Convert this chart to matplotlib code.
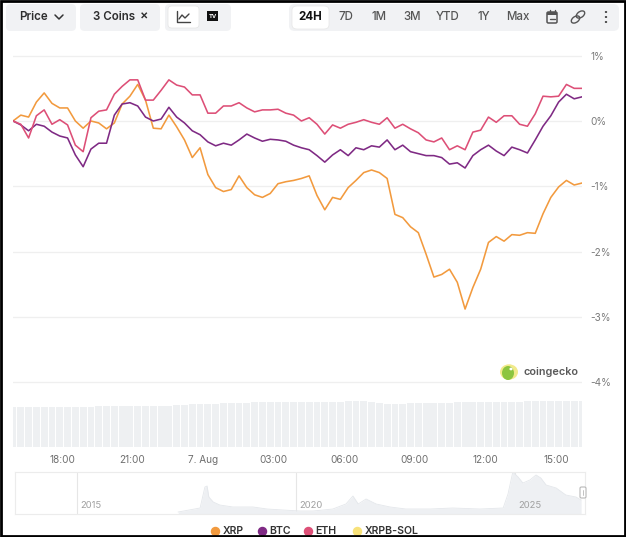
import numpy as np
import pandas as pd
import matplotlib
matplotlib.use("Agg")
import matplotlib.pyplot as plt
import matplotlib.dates as mdates
from matplotlib.patches import FancyBboxPatch, Rectangle, Circle, Ellipse
from matplotlib.lines import Line2D

plt.rcParams['font.family'] = ['Inter', 'DejaVu Sans']

# ---------------- data ----------------
start_time = "2025-08-06 15:55"
end_time = "2025-08-07 16:06"
n_points = 74

xrp = [0.00, 0.09, 0.06, 0.29, 0.43, 0.27, 0.20, 0.20, 0.00, -0.11,
       0.00, -0.03, -0.12, -0.03, 0.26, 0.38, 0.56, 0.32, -0.11, -0.12,
       0.09, -0.09, -0.29, -0.56, -0.41, -0.82, -1.02, -1.08, -1.05, -0.84,
       -1.02, -1.13, -1.17, -1.11, -0.96, -0.93, -0.91, -0.88, -0.84, -1.14,
       -1.36, -1.17, -1.20, -1.02, -0.91, -0.79, -0.75, -0.79, -0.88, -1.43,
       -1.48, -1.62, -1.71, -2.04, -2.39, -2.35, -2.27, -2.47, -2.88, -2.55,
       -2.27, -1.86, -1.77, -1.84, -1.74, -1.75, -1.71, -1.72, -1.42, -1.17,
       -1.01, -0.91, -0.98, -0.95]
btc = [0.00, -0.06, -0.15, -0.05, -0.08, -0.17, -0.23, -0.26, -0.52, -0.70,
       -0.43, -0.34, -0.34, 0.09, 0.26, 0.28, 0.23, 0.06, 0.00, 0.03,
       0.21, 0.06, -0.03, -0.15, -0.21, -0.32, -0.38, -0.34, -0.37, -0.29,
       -0.20, -0.26, -0.31, -0.28, -0.29, -0.31, -0.37, -0.41, -0.44, -0.53,
       -0.63, -0.52, -0.44, -0.53, -0.41, -0.44, -0.38, -0.40, -0.29, -0.44,
       -0.37, -0.47, -0.50, -0.53, -0.53, -0.56, -0.66, -0.64, -0.72, -0.53,
       -0.44, -0.37, -0.46, -0.53, -0.40, -0.44, -0.49, -0.29, -0.08, 0.08,
       0.29, 0.41, 0.34, 0.37]
eth = [0.00, -0.05, -0.26, 0.08, 0.17, -0.05, 0.02, -0.06, -0.37, -0.47,
       0.05, 0.15, 0.17, 0.41, 0.53, 0.63, 0.63, 0.32, 0.32, 0.47,
       0.63, 0.55, 0.52, 0.40, 0.40, 0.12, 0.12, 0.23, 0.23, 0.28,
       0.20, 0.14, 0.17, 0.17, 0.18, 0.12, 0.09, 0.00, 0.05, -0.05,
       -0.20, -0.06, -0.11, -0.05, -0.02, 0.02, -0.02, -0.05, 0.05, -0.11,
       -0.05, -0.12, -0.18, -0.29, -0.32, -0.26, -0.44, -0.38, -0.44, -0.17,
       -0.14, 0.06, -0.02, 0.08, 0.08, -0.05, -0.08, 0.11, 0.38, 0.37,
       0.38, 0.56, 0.50, 0.50]
volume = [40] * 11 + [41] * 10 + [42, 42, 43, 43, 43, 43, 44] + \
         [44, 44, 44, 45, 45, 45, 45, 45, 45, 45, 45, 45, 45] + \
         [45, 45, 46, 46, 46] + [45, 44, 43, 43, 43] + \
         [44, 44, 44, 44, 44, 44, 45, 45, 45, 45, 45, 45, 45, 45, 45,
          46, 46, 46, 46, 46, 46, 46, 46]

series_names = ["XRP", "BTC", "ETH", "XRPB-SOL"]
series_colors = ["#f29a3e", "#7f2a84", "#dd4f77", "#f8e27a"]

y_ticks = [1, 0, -1, -2, -3, -4]
y_tick_labels = ["1%", "0%", "-1%", "-2%", "-3%", "-4%"]

x_tick_times = ["2025-08-06 18:00", "2025-08-06 21:00", "2025-08-07 00:00",
                "2025-08-07 03:00", "2025-08-07 06:00", "2025-08-07 09:00",
                "2025-08-07 12:00", "2025-08-07 15:00"]
x_tick_labels = ["18:00", "21:00", "7. Aug", "03:00", "06:00", "09:00",
                 "12:00", "15:00"]

nav_years = [2017.31, 2017.81, 2017.92, 2017.97, 2018.01, 2018.11, 2018.26,
             2018.56, 2019.02, 2019.34, 2019.70, 2020.09, 2020.39, 2020.84,
             2021.14, 2021.30, 2021.42, 2021.60, 2021.83, 2022.15, 2022.51,
             2023.06, 2023.58, 2024.20, 2024.73, 2024.84, 2024.95, 2025.07,
             2025.18, 2025.34, 2025.48, 2025.59, 2025.71, 2025.94, 2026.16,
             2026.39, 2026.51]
nav_values = [2, 6, 27, 28, 17, 12, 9, 7, 7, 5, 4, 3, 3, 5, 10, 18, 10, 15,
              10, 7, 5, 5, 6, 5, 6, 20, 42, 37, 31, 34, 39, 36, 29, 26, 19,
              17, 14]
nav_year_ticks = [2015, 2020, 2025]

# ---------------- figure ----------------
W, H = 626, 537
fig = plt.figure(figsize=(W / 100, H / 100), dpi=100)
fig.patch.set_facecolor("white")


def fx(x):
    return x / W


def fy(y):
    return 1 - y / H


def box(x0, y0, x1, y1, color, rad=5, ec="none", lw=0, z=1):
    p = FancyBboxPatch((fx(x0), fy(y1)), fx(x1) - fx(x0), fy(y0) - fy(y1),
                       boxstyle=f"round,pad=0,rounding_size={rad / W}",
                       transform=fig.transFigure, facecolor=color,
                       edgecolor=ec, linewidth=lw, zorder=z)
    fig.add_artist(p)


def line(xs, ys, color="#444", lw=1.2, z=3):
    fig.add_artist(Line2D([fx(x) for x in xs], [fy(y) for y in ys],
                          transform=fig.transFigure, color=color, lw=lw,
                          zorder=z, solid_capstyle="round"))


times = pd.date_range(start_time, end_time, periods=n_points)
t0, t1 = mdates.date2num(times[0]), mdates.date2num(times[-1])

# main axes (pixel 13..582 x, 40..395 y)
ax = fig.add_axes([fx(13), fy(395), fx(582) - fx(13), fy(40) - fy(395)])
ax.set_xlim(times[0], times[-1])
ylow = (121 - 395) / 65.3
yhigh = (121 - 40) / 65.3
ax.set_ylim(ylow, yhigh)
for s in ax.spines.values():
    s.set_visible(False)
for v in y_ticks:
    ax.axhline(v, color="#efefef", lw=0.9, zorder=0)
ax.yaxis.tick_right()
ax.set_yticks(y_ticks)
ax.set_yticklabels(y_tick_labels)
ax.tick_params(axis="y", length=0, pad=6, labelsize=7.2, labelcolor="#7a7a7a")
ax.set_xticks([])
for vals, c in zip([xrp, btc, eth], series_colors[:3]):
    ax.plot(times, vals, color=c, lw=1.15, zorder=3)
ax.set_facecolor("none")

# volume axes
vax = fig.add_axes([fx(13), fy(447), fx(582) - fx(13), fy(390) - fy(447)])
step = (t1 - t0) / (n_points - 1)
vax.bar(times, volume, width=step * 0.88, color="#eef0f2", align="center")
vax.set_xlim(times[0], times[-1])
vax.set_ylim(0, 57)
for s in vax.spines.values():
    s.set_visible(False)
vax.set_yticks([])
vax.set_xticks(pd.to_datetime(x_tick_times))
vax.set_xticklabels(x_tick_labels)
vax.tick_params(axis="x", length=0, pad=6, labelsize=7.2, labelcolor="#6f6f6f")
vax.set_facecolor("none")

# navigator axes
nyear_l = 2015 + (15 - 77) / 43.8
nyear_r = 2015 + (585 - 77) / 43.8
nax = fig.add_axes([fx(15), fy(514), fx(585) - fx(15), fy(472) - fy(514)])
nax.set_xlim(nyear_l, nyear_r)
nax.set_ylim(0, 42)
nax.fill_between(nav_years, nav_values, 0, color="#eef0f3", lw=0)
nax.plot(nav_years, nav_values, color="#e4e7eb", lw=0.6)
for yv in nav_year_ticks:
    nax.axvline(yv, color="#e6e6e6", lw=0.8, zorder=0)
    nax.text(yv + 0.08, 4, str(yv), fontsize=6.8, color="#a0a0a0",
             va="bottom", ha="left")
nax.set_xticks([])
nax.set_yticks([])
for k, s in nax.spines.items():
    s.set_color("#ececec")
    s.set_linewidth(0.8)
nax.set_facecolor("none")
# navigator handle
box(580, 487, 586, 498, "white", rad=1.5, ec="#b8b8b8", lw=0.8, z=5)
line([583, 583], [490, 495], color="#b8b8b8", lw=0.6, z=6)

# coingecko watermark
fig.add_artist(Circle((fx(509), fy(372)), 9 / W, transform=fig.transFigure,
                      facecolor="#f2ea8c", edgecolor="none", zorder=4))
fig.add_artist(Ellipse((fx(508), fy(373)), 12 / W, 14 / H,
                       transform=fig.transFigure, facecolor="#8cc53f",
                       edgecolor="none", zorder=5))
fig.add_artist(Circle((fx(511), fy(369)), 1.6 / W, transform=fig.transFigure,
                      facecolor="white", edgecolor="none", zorder=6))
fig.text(fx(523), fy(372), "coingecko", fontsize=7.8, color="#5a5a5a",
         weight="semibold", va="center", ha="left")

# ---------------- toolbar ----------------
box(6, 4, 76, 31, "#f1f2f4", rad=5)
fig.text(fx(19), fy(17.5), "Price", fontsize=8.3, color="#2e2e2e",
         weight="semibold", va="center")
line([55, 59, 63], [15, 19, 15], color="#333", lw=1.1)
box(80, 4, 160, 31, "#f1f2f4", rad=5)
fig.text(fx(93), fy(17.5), "3 Coins", fontsize=8.3, color="#2e2e2e",
         weight="semibold", va="center")
fig.text(fx(144), fy(17), "×", fontsize=9, color="#2e2e2e",
         weight="semibold", va="center", ha="center")
box(165, 4, 231, 31, "#f1f2f4", rad=5)
box(168, 6, 199, 28, "white", rad=4, ec="#e4e4e4", lw=0.5, z=2)
line([177, 177, 190], [11, 22, 22], color="#444", lw=1.0)
line([179, 182, 185, 189], [19, 15, 18, 14], color="#444", lw=1.0)
fig.add_artist(Rectangle((fx(207), fy(21)), 11 / W, 10 / H,
                         transform=fig.transFigure, facecolor="#111",
                         edgecolor="none", zorder=3))
fig.text(fx(212.5), fy(16), "TV", fontsize=4.2, color="white",
         weight="bold", va="center", ha="center", zorder=4)

box(289, 4, 619, 31, "#f1f2f4", rad=6)
box(292, 6, 329, 29, "white", rad=5, ec="#e6e6e6", lw=0.5, z=2)
range_labels = ["24H", "7D", "1M", "3M", "YTD", "1Y", "Max"]
range_x = [310, 346, 379, 412, 448, 484, 518]
for lab, xx in zip(range_labels, range_x):
    if lab == "24H":
        fig.text(fx(xx), fy(17.5), lab, fontsize=8.3, color="#111",
                 weight="bold", va="center", ha="center", zorder=4)
    else:
        fig.text(fx(xx), fy(17.5), lab, fontsize=8.3, color="#555",
                 weight="medium", va="center", ha="center", zorder=4)
# calendar icon
fig.add_artist(FancyBboxPatch((fx(547), fy(23)), 10 / W, 11 / H,
                              boxstyle=f"round,pad=0,rounding_size={1.5 / W}",
                              transform=fig.transFigure, facecolor="none",
                              edgecolor="#555", lw=1.1, zorder=3))
fig.add_artist(Rectangle((fx(547), fy(15)), 10 / W, 3 / H,
                         transform=fig.transFigure, facecolor="#555",
                         edgecolor="none", zorder=3))
line([549.5, 549.5], [10, 12.5], color="#555", lw=1.0)
line([554.5, 554.5], [10, 12.5], color="#555", lw=1.0)
line([549.5, 554.5], [19, 19], color="#555", lw=1.0)
# link icon
for cx, cy in [(575.5, 19.5), (580.5, 14.5)]:
    fig.add_artist(Ellipse((fx(cx), fy(cy)), 10 / W, 5.5 / H, angle=45,
                           transform=fig.transFigure, facecolor="none",
                           edgecolor="#555", lw=1.0, zorder=3))
# menu dots
for yy in [12, 17, 22]:
    fig.add_artist(Circle((fx(606), fy(yy)), 1.2 / W,
                          transform=fig.transFigure, facecolor="#444",
                          edgecolor="none", zorder=3))

# ---------------- legend ----------------
legend_dot_x = [215, 262, 308, 357]
for name, c, xx in zip(series_names, series_colors, legend_dot_x):
    fig.add_artist(Line2D([fx(xx)], [fy(530.5)], marker="o", markersize=5.8,
                          color=c, transform=fig.transFigure, lw=0))
    fig.text(fx(xx + 7.5), fy(530.5), name, fontsize=7.6, color="#333",
             weight="semibold", va="center", ha="left")

# ---------------- frame ----------------
fig.add_artist(Rectangle((0.0015, 0.002), 0.997, 0.996,
                         transform=fig.transFigure, facecolor="none",
                         edgecolor="black", lw=2.0, zorder=10))

fig.savefig("out.png", dpi=100, facecolor="white")
